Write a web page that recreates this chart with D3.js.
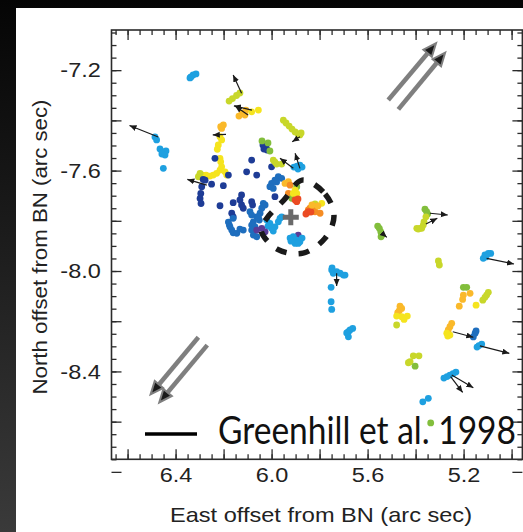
<!DOCTYPE html>
<html>
<head>
<meta charset="utf-8">
<script src="https://cdn.jsdelivr.net/npm/d3@7"></script>
<style>
  html, body { margin: 0; padding: 0; background: #000; overflow: hidden; }
  svg { display: block; }
</style>
</head>
<body>
<svg id="chart" width="523" height="532"></svg>
<script>
// Axis labels (arc sec offsets from BN)
const xTickLabels = [6.4, 6.0, 5.6, 5.2];
const yTickLabels = [-7.2, -7.6, -8.0, -8.4];

// Spot colour classes, blue-shifted (0) to red-shifted (9)
const velocityColours = [
  "#5a3c96", "#1e3c96", "#1e6ebe", "#1ea0e0", "#82be3c",
  "#c8d72a", "#f5e41e", "#fab92a", "#f58c23", "#eb4b23"
];

// Maser spots: [east offset, north offset, colour class]
const maserSpots = [
  [6.340,-7.231,3],[6.327,-7.219,3],[6.315,-7.215,3],[6.336,-7.227,3],
  [6.132,-7.291,5],[6.146,-7.301,5],[6.163,-7.313,5],[6.177,-7.323,5],
  [6.136,-7.383,7],[6.123,-7.371,7],[6.111,-7.379,7],[6.107,-7.359,7],
  [6.083,-7.366,6],[6.055,-7.359,6],
  [6.486,-7.466,3],[6.479,-7.478,3],[6.465,-7.514,3],[6.452,-7.526,3],[6.440,-7.522,3],
  [6.457,-7.534,3],[6.444,-7.538,3],[6.451,-7.591,3],
  [6.201,-7.4185,7],[6.208,-7.432,7],[6.212,-7.425,7],
  [6.215,-7.465,6],[6.208,-7.478,6],[6.222,-7.498,6],[6.226,-7.515,6],[6.215,-7.551,6],
  [6.212,-7.565,6],[6.208,-7.585,6],[6.215,-7.598,6],[6.229,-7.611,6],[6.243,-7.618,6],
  [6.257,-7.622,6],[6.273,-7.618,6],[6.287,-7.618,6],[6.298,-7.6245,6],[6.194,-7.605,6],
  [6.187,-7.618,6],
  [6.305,-7.6245,5],[6.298,-7.611,5],
  [6.236,-7.551,1],[6.180,-7.618,1],[6.250,-7.654,1],[6.201,-7.660,1],[6.285,-7.635,1],
  [6.277,-7.638,1],[6.291,-7.664,1],[6.295,-7.691,1],[6.298,-7.711,1],[6.294,-7.731,1],
  [6.215,-7.740,1],[6.083,-7.558,1],[6.104,-7.605,1],[6.062,-7.618,1],[6.160,-7.728,1],
  [6.125,-7.697,1],[6.132,-7.717,1],[6.125,-7.737,1],[6.118,-7.750,1],[6.083,-7.724,1],
  [6.079,-7.737,1],[5.986,-7.704,1],[6.000,-7.585,1],[6.166,-7.770,1],[6.160,-7.784,1],
  [6.036,-7.498,1],[6.023,-7.506,1],[6.032,-7.514,1],[6.019,-7.518,1],
  [6.040,-7.482,4],[6.007,-7.522,4],[6.015,-7.490,4],
  [5.993,-7.558,5],[5.979,-7.574,5],[5.958,-7.574,5],[5.986,-7.566,5],
  [5.907,-7.586,3],[5.894,-7.582,3],[5.882,-7.578,3],[5.890,-7.594,3],[5.873,-7.586,3],
  [5.951,-7.399,5],[5.940,-7.4105,5],[5.927,-7.4225,5],[5.915,-7.4345,5],[5.902,-7.446,5],
  [5.890,-7.454,5],[5.882,-7.458,5],[5.877,-7.450,5],
  [5.972,-7.6245,2],[5.986,-7.638,2],[6.000,-7.651,2],[6.007,-7.664,2],[5.993,-7.671,2],
  [5.958,-7.631,2],[5.979,-7.645,2],
  [5.944,-7.651,7],[5.930,-7.644,7],
  [5.923,-7.658,8],[5.930,-7.691,8],
  [5.895,-7.664,4],[5.916,-7.7105,4],
  [5.902,-7.6775,6],[5.895,-7.691,6],[5.9095,-7.691,6],
  [5.902,-7.717,9],[5.895,-7.724,9],[5.890,-7.713,9],
  [5.854,-7.770,8],[5.847,-7.757,8],[5.840,-7.750,8],[5.826,-7.744,8],[5.819,-7.764,8],[5.798,-7.770,8],
  [5.847,-7.764,9],[5.857,-7.773,9],[5.836,-7.765,9],
  [5.791,-7.7305,6],[5.819,-7.733,5],[5.807,-7.741,7],[5.832,-7.737,7],
  [6.180,-7.805,2],[6.176,-7.817,2],[6.173,-7.825,2],[6.166,-7.837,2],[6.160,-7.848,2],
  [6.145,-7.850,2],[6.132,-7.833,2],[6.118,-7.837,2],[6.160,-7.790,2],[6.0345,-7.7305,2],
  [6.041,-7.750,2],[6.048,-7.770,2],[6.062,-7.784,2],[6.076,-7.804,2],[6.083,-7.817,2],
  [6.069,-7.824,2],[6.051,-7.797,2],[6.090,-7.764,2],[6.083,-7.777,2],[6.083,-7.837,2],
  [6.076,-7.857,2],[6.062,-7.8635,2],[6.055,-7.784,2],[6.027,-7.737,2],
  [6.020,-7.797,3],[6.007,-7.810,3],[6.000,-7.830,3],[5.986,-7.824,3],[5.972,-7.804,3],
  [5.965,-7.790,3],[5.958,-7.784,3],[5.993,-7.841,3],[6.015,-7.821,3],
  [6.041,-7.830,0],[6.027,-7.844,0],[6.062,-7.837,0],[5.889,-7.857,0],
  [5.923,-7.869,3],[5.9095,-7.8635,3],[5.895,-7.877,3],[5.882,-7.8835,3],[5.902,-7.890,3],
  [5.889,-7.890,3],[5.919,-7.881,3],[5.873,-7.869,3],
  [5.558,-7.821,4],[5.551,-7.830,4],[5.545,-7.844,4],[5.541,-7.857,4],[5.544,-7.8635,4],
  [5.361,-7.754,4],[5.354,-7.764,4],[5.350,-7.773,4],
  [5.357,-7.784,5],[5.365,-7.804,5],[5.368,-7.817,5],[5.382,-7.830,5],[5.395,-7.830,5],
  [5.3745,-7.830,5],[5.389,-7.833,5],
  [5.118,-7.9495,3],[5.111,-7.936,3],[5.097,-7.930,3],[5.087,-7.930,3],[5.107,-7.944,3],
  [5.305,-7.960,5],[5.301,-7.976,5],
  [5.7495,-7.996,3],[5.743,-8.009,3],[5.729,-8.003,3],[5.715,-8.009,3],[5.701,-8.016,3],
  [5.694,-8.016,3],[5.748,-7.988,3],[5.752,-8.065,3],[5.752,-8.1225,3],[5.7495,-8.153,3],
  [5.680,-8.242,3],[5.673,-8.235,3],[5.662,-8.2285,3],[5.680,-8.262,3],[5.687,-8.247,3],
  [5.465,-8.140,7],[5.458,-8.149,7],[5.468,-8.158,7],[5.4745,-8.166,7],
  [5.479,-8.1795,6],[5.458,-8.182,6],[5.4345,-8.1795,6],[5.448,-8.193,6],
  [5.479,-8.215,5],
  [5.4095,-8.338,5],[5.386,-8.338,5],[5.423,-8.3615,5],[5.430,-8.3655,5],
  [5.402,-8.379,4],
  [5.201,-8.065,4],[5.187,-8.065,4],
  [5.201,-8.096,7],[5.204,-8.113,7],[5.218,-8.140,7],[5.173,-8.089,7],
  [5.097,-8.085,5],[5.104,-8.096,5],[5.111,-8.105,5],[5.120,-8.116,5],
  [5.148,-8.136,6],
  [5.2495,-8.2085,7],[5.257,-8.222,7],[5.264,-8.235,7],
  [5.270,-8.248,6],[5.257,-8.255,6],[5.266,-8.259,6],
  [5.152,-8.248,2],[5.1595,-8.2625,2],[5.148,-8.239,2],
  [5.144,-8.303,3],[5.136,-8.297,3],[5.1245,-8.291,3],
  [5.282,-8.4265,3],[5.269,-8.4205,3],[5.257,-8.4145,3],[5.244,-8.4085,3],[5.232,-8.4026,3],
  [5.370,-8.521,3],[5.347,-8.507,3],
  [5.337,-8.605,4]
];

// Proper motions: [east0, north0, east1, north1]
const motionArrows = [
  [6.125,-7.292,6.160,-7.219],
  [6.082,-7.359,6.157,-7.342],
  [6.098,-7.379,6.152,-7.343],
  [6.472,-7.466,6.592,-7.4205],
  [6.190,-7.456,6.245,-7.458],
  [6.270,-7.658,6.351,-7.635],
  [5.9095,-7.591,5.965,-7.551],
  [5.882,-7.591,5.902,-7.531],
  [5.882,-7.465,5.914,-7.485],
  [5.541,-7.848,5.520,-7.866],
  [5.340,-7.770,5.266,-7.777],
  [5.357,-7.813,5.3095,-7.790],
  [5.104,-7.9495,4.990,-7.972],
  [5.729,-8.009,5.729,-8.060],
  [5.245,-8.242,5.1595,-8.264],
  [5.132,-8.298,5.0095,-8.328],
  [5.2495,-8.4145,5.1595,-8.465],
  [5.254,-8.421,5.204,-8.4835]
];

// Outflow directions (paired grey arrows)
const outflowArrows = [
  [5.514,-7.319,5.315,-7.093],
  [5.472,-7.356,5.277,-7.1305],
  [6.305,-8.264,6.504,-8.4915],
  [6.268,-8.295,6.468,-8.5235]
];

// Greenhill et al. 1998 region and centre
const greenhillRing = [
  [5.873,-7.638],[5.777,-7.693],[5.740,-7.781],[5.777,-7.869],[5.869,-7.9285],
  [5.977,-7.9125],[6.044,-7.837],[6.019,-7.789],[5.948,-7.717]
];
const greenhillCentre = [5.920, -7.786];

const svg = d3.select("#chart");
const W = 523, H = 532;

// Backdrop and white panel
const defs = svg.append("defs");
const bg = defs.append("linearGradient").attr("id", "bg").attr("x1", 0).attr("y1", 0).attr("x2", 0).attr("y2", 1);
bg.append("stop").attr("offset", 0).attr("stop-color", "#050505");
bg.append("stop").attr("offset", 0.45).attr("stop-color", "#1c1c1c");
bg.append("stop").attr("offset", 1).attr("stop-color", "#3a3a3a");
svg.append("rect").attr("width", W).attr("height", H).attr("fill", "url(#bg)");
svg.append("rect").attr("x", 16).attr("y", 8).attr("width", W - 16).attr("height", H - 8).attr("fill", "#fff");

const x = d3.scaleLinear().domain([6.667, 4.955]).range([111.5, 522.4]);
const y = d3.scaleLinear().domain([-7.04, -8.75]).range([30, 459.3]);
const [x0, x1] = x.range();
const [y0, y1] = y.range();

const step = (a, b, s) => d3.range(0, Math.round((a - b) / s) + 1).map(i => +(a - i * s).toFixed(3));
const xMinor = step(6.65, 4.96, 0.05);
const xMajor = step(6.6, 4.96, 0.2);
const yMinor = step(-7.05, -8.75, 0.05).filter(v => v >= -8.75);
const yMajor = step(-7.2, -8.75, 0.2);

const axisColour = "#2b2b2b";
const tickFont = "'Liberation Sans', Arial, Helvetica, sans-serif";
const textStretch = 1.12;   // labels are set slightly wide

function styleAxis(g) {
  g.selectAll("path.domain").remove();
  g.selectAll("line").attr("stroke", axisColour).attr("stroke-width", 1.3);
  g.selectAll("text").attr("fill", "#222").attr("font-family", tickFont).attr("font-size", 21)
    .attr("transform", `scale(${textStretch},1)`);
}
const fmtX = d => xTickLabels.some(v => Math.abs(v - d) < 1e-6) ? d.toFixed(1) : "";
const fmtY = d => yTickLabels.some(v => Math.abs(v - d) < 1e-6) ? d.toFixed(1) : "";

// Bottom
svg.append("g").attr("transform", `translate(0,${y1})`)
  .call(d3.axisBottom(x).tickValues(xMinor).tickSize(-5).tickFormat("")).call(styleAxis);
svg.append("g").attr("transform", `translate(0,${y1})`)
  .call(d3.axisBottom(x).tickValues(xMajor).tickSize(-10).tickPadding(8).tickFormat(fmtX)).call(styleAxis);
// Top
svg.append("g").attr("transform", `translate(0,${y0})`)
  .call(d3.axisTop(x).tickValues(xMinor).tickSize(-5).tickFormat("")).call(styleAxis);
svg.append("g").attr("transform", `translate(0,${y0})`)
  .call(d3.axisTop(x).tickValues(xMajor).tickSize(-10).tickFormat("")).call(styleAxis);
// Left
svg.append("g").attr("transform", `translate(${x0},0)`)
  .call(d3.axisLeft(y).tickValues(yMinor).tickSize(-5).tickFormat("")).call(styleAxis);
svg.append("g").attr("transform", `translate(${x0},0)`)
  .call(d3.axisLeft(y).tickValues(yMajor).tickSize(-10).tickPadding(9.5).tickFormat(fmtY)).call(styleAxis);
// Right
svg.append("g").attr("transform", `translate(${x1},0)`)
  .call(d3.axisRight(y).tickValues(yMinor).tickSize(-5).tickFormat("")).call(styleAxis);
svg.append("g").attr("transform", `translate(${x1},0)`)
  .call(d3.axisRight(y).tickValues(yMajor).tickSize(-10).tickFormat("")).call(styleAxis);

// Frame
svg.append("rect").attr("x", x0).attr("y", y0).attr("width", x1 - x0).attr("height", y1 - y0)
  .attr("fill", "none").attr("stroke", axisColour).attr("stroke-width", 1.6);

// Axis titles
svg.append("text").attr("x", 321).attr("y", 522)
  .attr("text-anchor", "middle").attr("font-family", tickFont).attr("font-size", 21).attr("fill", "#222")
  .attr("textLength", 302).attr("lengthAdjust", "spacingAndGlyphs")
  .text("East offset from BN (arc sec)");
svg.append("text").attr("transform", "translate(47,247) rotate(-90)")
  .attr("text-anchor", "middle").attr("font-family", tickFont).attr("font-size", 21).attr("fill", "#222")
  .attr("textLength", 295).attr("lengthAdjust", "spacingAndGlyphs")
  .text("North offset from BN (arc sec)");

// Maser spots
svg.append("g").selectAll("circle").data(maserSpots).join("circle")
  .attr("cx", d => x(d[0])).attr("cy", d => y(d[1])).attr("r", 3.4)
  .attr("fill", d => velocityColours[d[2]]);

// Proper-motion arrows
defs.append("marker").attr("id", "pm").attr("markerUnits", "userSpaceOnUse")
  .attr("markerWidth", 10).attr("markerHeight", 10).attr("refX", 7).attr("refY", 3)
  .attr("orient", "auto")
  .append("path").attr("d", "M0,0L7,3L0,6Z").attr("fill", "#1a1a1a");
svg.append("g").selectAll("line").data(motionArrows).join("line")
  .attr("x1", d => x(d[0])).attr("y1", d => y(d[1]))
  .attr("x2", d => x(d[2])).attr("y2", d => y(d[3]))
  .attr("stroke", "#1a1a1a").attr("stroke-width", 1.2).attr("marker-end", "url(#pm)");

// Greenhill et al. 1998 dashed region
svg.append("path")
  .attr("d", d3.line().x(d => x(d[0])).y(d => y(d[1])).curve(d3.curveCatmullRomClosed)(greenhillRing))
  .attr("fill", "none").attr("stroke", "#1a1a1a").attr("stroke-width", 5.5)
  .attr("stroke-dasharray", "11 12");

// Centre cross
const cx = x(greenhillCentre[0]), cy = y(greenhillCentre[1]);
svg.append("path").attr("d", `M${cx - 8},${cy}H${cx + 8}M${cx},${cy - 8}V${cy + 8}`)
  .attr("stroke", "#6a6a6a").attr("stroke-width", 5);

// Outflow arrows
const og = svg.append("g");
outflowArrows.forEach(a => {
  const px0 = x(a[0]), py0 = y(a[1]), px1 = x(a[2]), py1 = y(a[3]);
  const len = Math.hypot(px1 - px0, py1 - py0);
  const ux = (px1 - px0) / len, uy = (py1 - py0) / len;
  const head = 13, half = 5.5;
  og.append("line").attr("x1", px0).attr("y1", py0)
    .attr("x2", px1 - ux * (head - 2)).attr("y2", py1 - uy * (head - 2))
    .attr("stroke", "#7f7f7f").attr("stroke-width", 4.5);
  const bx = px1 - ux * head, by = py1 - uy * head;
  og.append("path")
    .attr("d", `M${px1},${py1}L${bx - uy * half},${by + ux * half}L${bx + uy * half},${by - ux * half}Z`)
    .attr("fill", "#1a1a1a").attr("stroke", "#7f7f7f").attr("stroke-width", 2).attr("stroke-linejoin", "miter");
});

// Legend: key line and reference label, label narrowed to fit inside the frame
svg.append("line").attr("x1", 145).attr("x2", 197).attr("y1", 434).attr("y2", 434)
  .attr("stroke", "#000").attr("stroke-width", 3.3);
const legendLabel = svg.append("text")
  .attr("font-family", "Lato, 'Open Sans', sans-serif").attr("font-size", 39).attr("fill", "#111")
  .text("Greenhill et al. 1998");
const natural = legendLabel.node().getComputedTextLength();
legendLabel.attr("transform", `translate(218,444) scale(${298 / natural},1)`);
</script>
</body>
</html>
